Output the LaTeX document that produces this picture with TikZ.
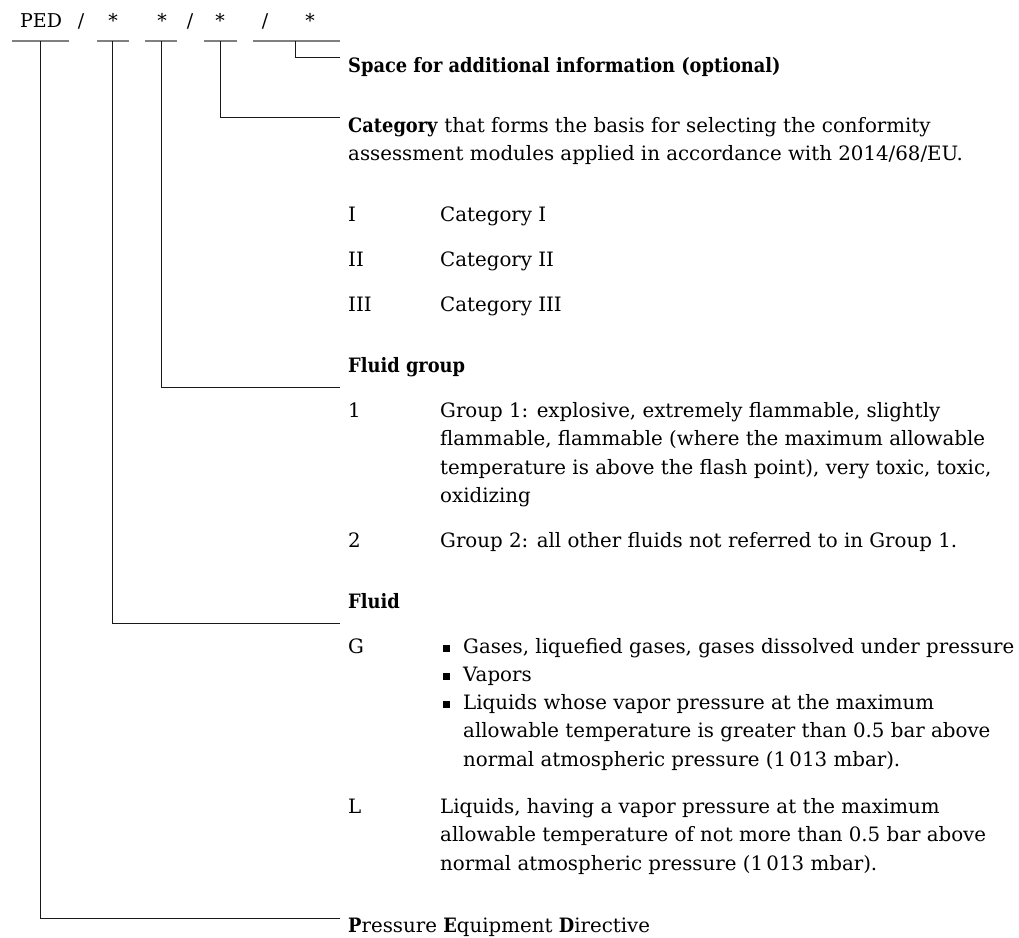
\documentclass[tikz,border=0pt]{standalone}
\usepackage{fontspec}
\setmainfont{DejaVu Serif}[BoldFeatures={FakeStretch=0.9}]
\tikzset{
  txt/.style={anchor=base west, inner sep=0pt, align=left, font=\fontsize{19.8}{28.6}\selectfont},
  sym/.style={anchor=base, inner sep=0pt, font=\fontsize{19}{28.6}\selectfont},
  uline/.style={draw=black!50, line width=1.6pt},
  conn/.style={draw=black!90, line width=1pt},
}
\newcommand{\blt}{\raisebox{1.5pt}{\rule{7pt}{7pt}}}
\begin{document}
\begin{tikzpicture}[x=1pt,y=-1pt]
\useasboundingbox (0,0) rectangle (1019,937);
% code line
\node[sym, anchor=base west] (tPED) at (20,27) {PED};
\node[sym] (s1) at (81,27) {/};
\node[sym] (a1) at (113,27) {*};
\node[sym] (a2) at (162,27) {*};
\node[sym] (s2) at (190,27) {/};
\node[sym] (a3) at (220,27) {*};
\node[sym] (s3) at (265,27) {/};
\node[sym] (a4) at (310,27) {*};
% underline coordinates
\coordinate (u1a) at (12,41);  \coordinate (u1b) at (69,41);
\coordinate (u2a) at (97,41);  \coordinate (u2b) at (129,41);
\coordinate (u3a) at (145,41); \coordinate (u3b) at (177,41);
\coordinate (u4a) at (204,41); \coordinate (u4b) at (237,41);
\coordinate (u5a) at (253,41); \coordinate (u5b) at (340,41);
\draw[uline] (u1a) -- (u1b);
\draw[uline] (u2a) -- (u2b);
\draw[uline] (u3a) -- (u3b);
\draw[uline] (u4a) -- (u4b);
\draw[uline] (u5a) -- (u5b);
% connector start points
\coordinate (c1) at (40.7,41);
\coordinate (c2) at (112.7,41);
\coordinate (c3) at (161.7,41);
\coordinate (c4) at (220,41);
\coordinate (c5) at (295.7,41);
% connector end points
\coordinate (e5) at (340,57);
\coordinate (e4) at (340,117);
\coordinate (e3) at (340,387);
\coordinate (e2) at (340,623);
\coordinate (e1) at (340,918);
\draw[conn] (c5) |- (e5);
\draw[conn] (c4) |- (e4);
\draw[conn] (c3) |- (e3);
\draw[conn] (c2) |- (e2);
\draw[conn] (c1) |- (e1);
% texts (multi-line nodes are anchored at the baseline of their last line)
\node[txt] (space) at (348,72) {\textbf{Space for additional information (optional)}};
\node[txt] (cat) at (348,160.6) {\textbf{Category} that forms the basis for selecting the conformity\\assessment modules applied in accordance with 2014/68/EU.};
\node[txt] (kI) at (348,221) {I};
\node[txt] (dI) at (440,221) {Category I};
\node[txt] (kII) at (348,266) {II};
\node[txt] (dII) at (440,266) {Category II};
\node[txt] (kIII) at (348,311) {III};
\node[txt] (dIII) at (440,311) {Category III};
\node[txt] (fg) at (348,372) {\textbf{Fluid group}};
\node[txt] (k1) at (348,417) {1};
\node[txt] (d1) at (440,502.8) {Group 1: explosive, extremely flammable, slightly\\flammable, flammable (where the maximum allowable\\temperature is above the flash point), very toxic, toxic,\\oxidizing};
\node[txt] (k2) at (348,547) {2};
\node[txt] (d2) at (440,547) {Group 2: all other fluids not referred to in Group 1.};
\node[txt] (fl) at (348,608) {\textbf{Fluid}};
\node[txt] (kG) at (348,653) {G};
\node[txt] (b1) at (443,653) {\blt};
\node[txt] (g1) at (463,653) {Gases, liquefied gases, gases dissolved under pressure};
\node[txt] (b2) at (443,681) {\blt};
\node[txt] (g2) at (463,681) {Vapors};
\node[txt] (b3) at (443,709) {\blt};
\node[txt] (g3) at (463,766.2) {Liquids whose vapor pressure at the maximum\\allowable temperature is greater than 0.5 bar above\\normal atmospheric pressure (1\,013 mbar).};
\node[txt] (kL) at (348,813) {L};
\node[txt] (dL) at (440,870.2) {Liquids, having a vapor pressure at the maximum\\allowable temperature of not more than 0.5 bar above\\normal atmospheric pressure (1\,013 mbar).};
\node[txt] (ped) at (348,932) {\textbf{P}ressure \textbf{E}quipment \textbf{D}irective};
\end{tikzpicture}
\end{document}
